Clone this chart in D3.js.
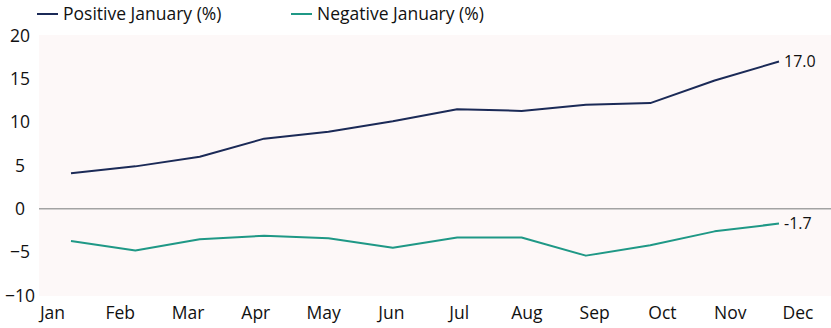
<!DOCTYPE html>
<html>
<head>
<meta charset="utf-8">
<script src="https://cdn.jsdelivr.net/npm/d3@7"></script>
<style>
  html, body { margin: 0; padding: 0; background: #fff; }
  svg { display: block; font-family: "Open Sans", Lato, sans-serif; }
</style>
</head>
<body>
<svg id="chart" width="831" height="328"></svg>
<script>
const months = ["Jan","Feb","Mar","Apr","May","Jun","Jul","Aug","Sep","Oct","Nov","Dec"];
const positiveJanuary = [4.1, 4.9, 6.0, 8.1, 8.9, 10.1, 11.5, 11.3, 12.0, 12.2, 14.8, 17.0];
const negativeJanuary = [-3.7, -4.8, -3.5, -3.1, -3.4, -4.5, -3.3, -3.3, -5.4, -4.2, -2.6, -1.7];
const yTicks = [20, 15, 10, 5, 0, -5, -10];
const seriesNames = ["Positive January (%)", "Negative January (%)"];
const seriesColors = ["#1b2a57", "#1f9886"];

const svg = d3.select("#chart");
const plot = { left: 39, right: 831, top: 35, bottom: 296 };

const y = d3.scaleLinear().domain([-10, 20]).range([295.5, 35.5]);
const xPt = d3.scalePoint().domain(months).range([71, 779]);
const xLab = d3.scalePoint().domain(months).range([52, 797.5]);

// plot background
svg.append("rect")
  .attr("x", plot.left).attr("y", plot.top)
  .attr("width", plot.right - plot.left).attr("height", plot.bottom - plot.top)
  .attr("fill", "#fdf8f8");

// zero line
svg.append("line")
  .attr("x1", plot.left).attr("x2", plot.right)
  .attr("y1", y(0)).attr("y2", y(0))
  .attr("stroke", "#a3a3a3").attr("stroke-width", 1.5);

// y axis labels
const yAxis = d3.axisLeft(y).tickValues(yTicks).tickSize(0).tickPadding(0);
const gy = svg.append("g").attr("transform", "translate(20,0)").call(yAxis);
gy.select(".domain").remove();
gy.selectAll("text")
  .attr("text-anchor", "middle")
  .attr("font-size", 17.5)
  .attr("fill", "#111")
  .attr("font-family", "'Open Sans', sans-serif");

// x axis labels
const xAxis = d3.axisBottom(xLab).tickSize(0).tickPadding(0);
const gx = svg.append("g").attr("transform", "translate(0,307)").call(xAxis);
gx.select(".domain").remove();
gx.selectAll("text")
  .attr("font-size", 17.5)
  .attr("fill", "#111")
  .attr("font-family", "'Open Sans', sans-serif");

const line = d3.line().x((d, i) => xPt(months[i])).y(d => y(d));
const allSeries = [positiveJanuary, negativeJanuary];

allSeries.forEach((s, k) => {
  svg.append("path")
    .datum(s)
    .attr("d", line)
    .attr("fill", "none")
    .attr("stroke", seriesColors[k])
    .attr("stroke-width", 2)
    .attr("stroke-linejoin", "round");
  const last = s[s.length - 1];
  svg.append("text")
    .attr("x", xPt(months[months.length - 1]) + 5)
    .attr("y", y(last))
    .attr("dy", "0.35em")
    .attr("font-size", 16)
    .attr("fill", "#111")
    .text(last.toFixed(1));
});

// legend
const legendX = [37, 291];
seriesNames.forEach((n, k) => {
  const g = svg.append("g").attr("transform", `translate(${legendX[k]},14)`);
  g.append("line").attr("x1", 0).attr("x2", 21).attr("y1", 0).attr("y2", 0)
    .attr("stroke", seriesColors[k]).attr("stroke-width", 2);
  g.append("text").attr("x", 26).attr("y", 0).attr("dy", "0.35em")
    .attr("font-size", 17.5).attr("fill", "#111").text(n);
});
</script>
</body>
</html>
